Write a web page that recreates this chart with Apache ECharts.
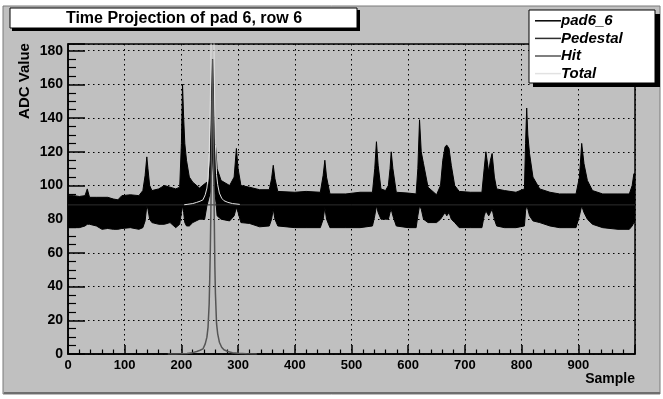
<!DOCTYPE html>
<html><head><meta charset="utf-8">
<script src="https://cdn.jsdelivr.net/npm/echarts@6/dist/echarts.min.js"></script>
<style>html,body{margin:0;padding:0;background:#fff;}#c{width:663px;height:399px;}</style>
</head><body><div id="c"></div>
<script>
// pad6_6 : envelope of the fast-oscillating ADC signal (upper / lower edge)
const sampleX = [0,10,20,30,34,38,50,60,70,80,88,95,110,125,132,136,139,141,144,148,160,170,180,190,197,200,202,204,206,209,214,220,232,241,245,248,251,253,255,257,259,261,263,270,285,293,297,300,305,320,338,355,359,362,365,370,400,420,445,450,453,456,462,490,515,537,541,544,547,552,560,565,568,570,573,579,600,614,617,620,623,627,635,650,657,661,665,668,672,676,682,690,710,730,734,737,742,745,748,752,756,770,790,805,807,809,811,814,820,832,850,867,880,896,902,906,910,916,925,943,970,990,995,998,1000];
const padHigh = [94,94,93.5,94,98,93,93,93,93,92,91.5,94,94.5,94,97,106,117,110,100,97,98,100,99,98,99,125,160,140,125,115,105,102,98.5,101,102,100,115,150,175,150,128,120,110,103,100,105,122,110,100,99,97.5,97.5,104,112,104,96.5,96,96.5,96,106,115,105,95,95,96,96,110,126,112,98,97,100,110,120,110,96,95.5,95,110,139,120,113,99,94.5,100,115,123,124,122,112,100,96.5,96,96,110,120,108,115,119,105,98,97,96,98,125,146,130,119,105,98,96,95,95,95,105,125,113,103,97,95,95,95,100,107,107];
const padLow = [75,75,75,76,77,77,76,74,74.5,74,74,74.5,75,74,75,79,88,86,80,78,77,77,78,75,77,84,88,84,78,76,76,78,80,80,88,92,96,105,120,105,96,90,82,80,79,82,87,84,78,77.5,75.5,76,80,86,80,76,75,75,75,80,87,80,75,75,75,76,82,88,84,80,80,80,84,86,82,76,75,75,82,88,86,80,78,78,80,82,84,82,84,80,78,75,75,75,82,85,82,84,86,80,76,75,75,76,85,88,86,82,79,78,76,75,75,75,82,88,84,80,77,75,74,74,76,78,78];
// Pedestal fit
const pedX = [0,1000];
const pedY = [88.5,88.5];
// Hit fit
const hitX = [176,190,200,210,220,227,233,238,242,245,247,249,250,251,252,253,254,255,256,257,258,259,260,262,264,267,271,275,282,290,300,315,333];
const hitY = [0,0,0.1,0.3,0.8,1.5,2.2,3,6,10,16,30,45,62,85,115,150,175,148,112,80,52,36,18,12,7,4,2.5,1.5,0.8,0.4,0.1,0];
// Total fit (pedestal + hit)
const totalX = [205,210,220,227,233,238,242,245,247,249,250,251,252,253,254,255,256,257,258,259,260,262,264,267,271,275,282,290,303];
const totalY = [88.6,88.8,89.3,90,90.7,91.5,94.5,98.5,104.5,118.5,133.5,150.5,173.5,203.5,238.5,263.5,236.5,200.5,168.5,140.5,124.5,106.5,100.5,95.5,92.5,91,90,89.3,88.8];

const legendNames = ['pad6_6','Pedestal','Hit','Total'];
const yTicks = {min:0, max:184, interval:20};
const xTicks = {min:0, max:1000, interval:100};

const zip = (a,b) => a.map((x,i)=>[x,b[i]]);

const font = 'Liberation Sans, Arial, sans-serif';
const chart = echarts.init(document.getElementById('c'), null, {renderer:'canvas'});
chart.setOption({
  backgroundColor:'#ffffff',
  animation:false,
  grid:{left:68, top:44, width:567, height:310, show:true, borderColor:'#000', borderWidth:1.5, backgroundColor:'transparent'},
  xAxis:{type:'value', min:xTicks.min, max:xTicks.max, interval:xTicks.interval,
    axisLine:{lineStyle:{color:'#000', width:1.5}},
    axisTick:{inside:true, length:9, lineStyle:{color:'#000', width:1.5}},
    minorTick:{show:true, splitNumber:5, length:4.5, lineStyle:{color:'#000', width:1.2}},
    splitLine:{show:true, lineStyle:{color:'#000', width:1, type:[1.5,3.5]}},
    axisLabel:{color:'#000', fontWeight:'bold', fontSize:13, fontFamily:font, margin:5, showMaxLabel:false}
  },
  yAxis:{type:'value', min:yTicks.min, max:yTicks.max, interval:yTicks.interval,
    axisLine:{show:true, lineStyle:{color:'#000', width:1.5}},
    axisTick:{show:true, inside:true, length:17, lineStyle:{color:'#000', width:1.5}},
    minorTick:{show:true, splitNumber:4, length:8, lineStyle:{color:'#000', width:1.2}},
    splitLine:{show:true, lineStyle:{color:'#000', width:1, type:[1.5,3.5]}},
    axisLabel:{color:'#000', fontWeight:'bold', fontSize:14, fontFamily:font, margin:5, showMaxLabel:false}
  },
  legend:{data:legendNames.map(n=>({name:n, icon:'rect'})), orient:'vertical', left:530, top:7, itemWidth:26, itemHeight:1.5, itemGap:0,
    z:30, selectedMode:false,
    textStyle:{color:'#000', fontWeight:'bold', fontStyle:'italic', fontSize:15, fontFamily:font, lineHeight:17.6, padding:[0,0,0,-5]}},
  graphic:[
    {type:'rect', z:-100, shape:{x:3, y:6, width:657, height:388}, style:{fill:'#c0c0c0', stroke:'#7a7a7a', lineWidth:1}},
    {type:'rect', z:-99, shape:{x:4, y:392, width:656, height:2}, style:{fill:'#6e6e6e'}},
    {type:'rect', z:20, shape:{x:12, y:10, width:348, height:21}, style:{fill:'#000'}},
    {type:'rect', z:21, shape:{x:10, y:8, width:347, height:20}, style:{fill:'#fff', stroke:'#000', lineWidth:1}},
    {type:'text', z:22, x:184, y:18.5, style:{text:'Time Projection of pad 6, row 6', fill:'#000', font:'bold 16px '+font, textAlign:'center', textVerticalAlign:'middle'}},
    {type:'rect', z:20, shape:{x:533, y:14, width:127, height:73}, style:{fill:'#000'}},
    {type:'rect', z:21, shape:{x:529, y:10, width:126, height:73}, style:{fill:'#fff', stroke:'#000', lineWidth:1}},
    {type:'text', z:22, x:25, y:81, rotation:Math.PI/2, style:{text:'ADC Value', fill:'#000', font:'bold 15px '+font, textAlign:'center', textVerticalAlign:'middle'}},
    {type:'text', z:22, x:635, y:379, style:{text:'Sample', fill:'#000', font:'bold 14px '+font, textAlign:'right', textVerticalAlign:'middle'}}
  ],
  series:[
    {name:'pad6_6', type:'custom', data:[[sampleX[0], padLow[0]]], color:'#000', itemStyle:{color:'#000'}, z:2, clip:true,
      renderItem:function(params, api){
        const pts = [];
        for (let i=0;i<sampleX.length;i++) pts.push(api.coord([sampleX[i], padHigh[i]]));
        for (let i=sampleX.length-1;i>=0;i--) pts.push(api.coord([sampleX[i], padLow[i]]));
        return {type:'polygon', shape:{points:pts}, style:{fill:'#000', stroke:'#000', lineWidth:1}};
      }},
    {name:'Pedestal', type:'line', data:zip(pedX,pedY), symbol:'none', color:'#2e2e2e', lineStyle:{color:'#2e2e2e', width:1}, z:3},
    {name:'Hit', type:'line', data:zip(hitX,hitY), symbol:'none', color:'#555555', lineStyle:{color:'#555555', width:1.5}, z:4},
    {name:'Total', type:'line', data:zip(totalX,totalY), symbol:'none', color:'#e2e2e2', lineStyle:{color:'#e2e2e2', width:1}, z:5}
  ]
});
</script></body></html>
